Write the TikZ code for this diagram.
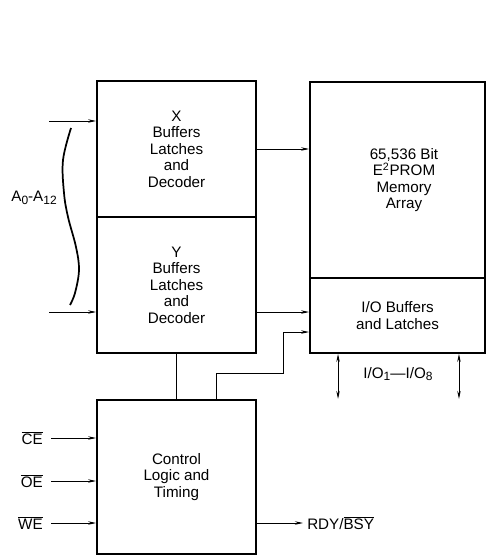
\documentclass[tikz,border=0pt]{standalone}
\usepackage{fontspec}
\setmainfont{Liberation Sans}
\usetikzlibrary{arrows.meta,calc}
\newcommand{\mysub}[1]{\raisebox{-0.35ex}{\fontsize{9}{10}\selectfont #1}}
\begin{document}
\begin{tikzpicture}[x=0.75pt,y=-0.75pt,
  blk/.style={draw,line width=1.4pt,rectangle,inner sep=0pt,align=center,
    font=\fontsize{11.4}{12.4}\selectfont},
  lbl/.style={inner sep=0pt,font=\fontsize{11.4}{12.4}\selectfont},
  arr/.style={line width=0.6pt,-{Stealth[length=6pt,width=2.6pt]}},
  wire/.style={line width=0.6pt},
  dbl/.style={line width=0.6pt,{Stealth[length=6pt,width=2.6pt]}-{Stealth[length=6pt,width=2.6pt]}}]
\useasboundingbox (0,0) rectangle (486,555);
% blocks
\node[blk,minimum width=119.25pt,minimum height=102pt] (X) at (176.5,149) {X\\Buffers\\Latches\\and\\Decoder};
\node[blk,minimum width=119.25pt,minimum height=102pt] (Y) at (176.5,285) {Y\\Buffers\\Latches\\and\\Decoder};
\node[blk,minimum width=131.25pt,minimum height=147pt] (A) at (397.5,180) {};
\node[lbl,align=center] (Atext) at (404,180) {65,536 Bit\\E\textsuperscript{2}PROM\\Memory\\Array};
\node[blk,minimum width=131.25pt,minimum height=56.25pt] (IO) at (397.5,315.5) {I/O Buffers\\and Latches};
\node[blk,minimum width=119.25pt,minimum height=115.5pt] (C) at (176.5,477) {Control\\Logic and\\Timing};
% address inputs
\coordinate (a1) at (49,121);
\coordinate (a2) at (49,312);
\draw[arr] (a1) -- (a1 -| X.west);
\draw[arr] (a2) -- (a2 -| Y.west);
\draw[line width=1.3pt] plot[smooth,tension=0.6] coordinates {(71,128) (63,160) (64,193) (68,217) (76,247) (79,270) (75,293) (70,305)};
\node[lbl,anchor=east] (addr) at (57,198) {A\mysub{0}-A\mysub{12}};
% internal connections
\draw[arr] (X.east) -- (X.east -| A.west);
\draw[arr] ([yshift=2.6pt]IO.west -| Y.east) -- ([yshift=2.6pt]IO.west);
\draw[wire] (Y.south) -- (C.north);
\draw[arr] ([xshift=29.6pt]C.north) |- (283,373) |- ([yshift=-12.4pt]IO.west);
% data I/O
\draw[dbl] ([xshift=-44.6pt]IO.south) -- ++(0,45);
\draw[dbl] ([xshift=46.1pt]IO.south) -- ++(0,45);
\node[lbl] (iolab) at (398,374) {I/O\mysub{1}—I/O\mysub{8}};
% control inputs
\node[lbl,anchor=east] (ce) at (43,438) {$\overline{\mbox{CE}}$};
\node[lbl,anchor=east] (oe) at (43,481) {$\overline{\mbox{OE}}$};
\node[lbl,anchor=east] (we) at (43,523) {$\overline{\mbox{WE}}$};
\draw[arr] ([xshift=6pt]ce.east) -- (ce -| C.west);
\draw[arr] ([xshift=6pt]oe.east) -- (oe -| C.west);
\draw[arr] ([xshift=6pt]we.east) -- (we -| C.west);
% ready/busy
\node[lbl,anchor=west] (rdy) at (307,523) {RDY/$\overline{\mbox{BSY}}$};
\draw[arr] (C.east |- rdy.west) -- ([xshift=-3pt]rdy.west);
\end{tikzpicture}
\end{document}
